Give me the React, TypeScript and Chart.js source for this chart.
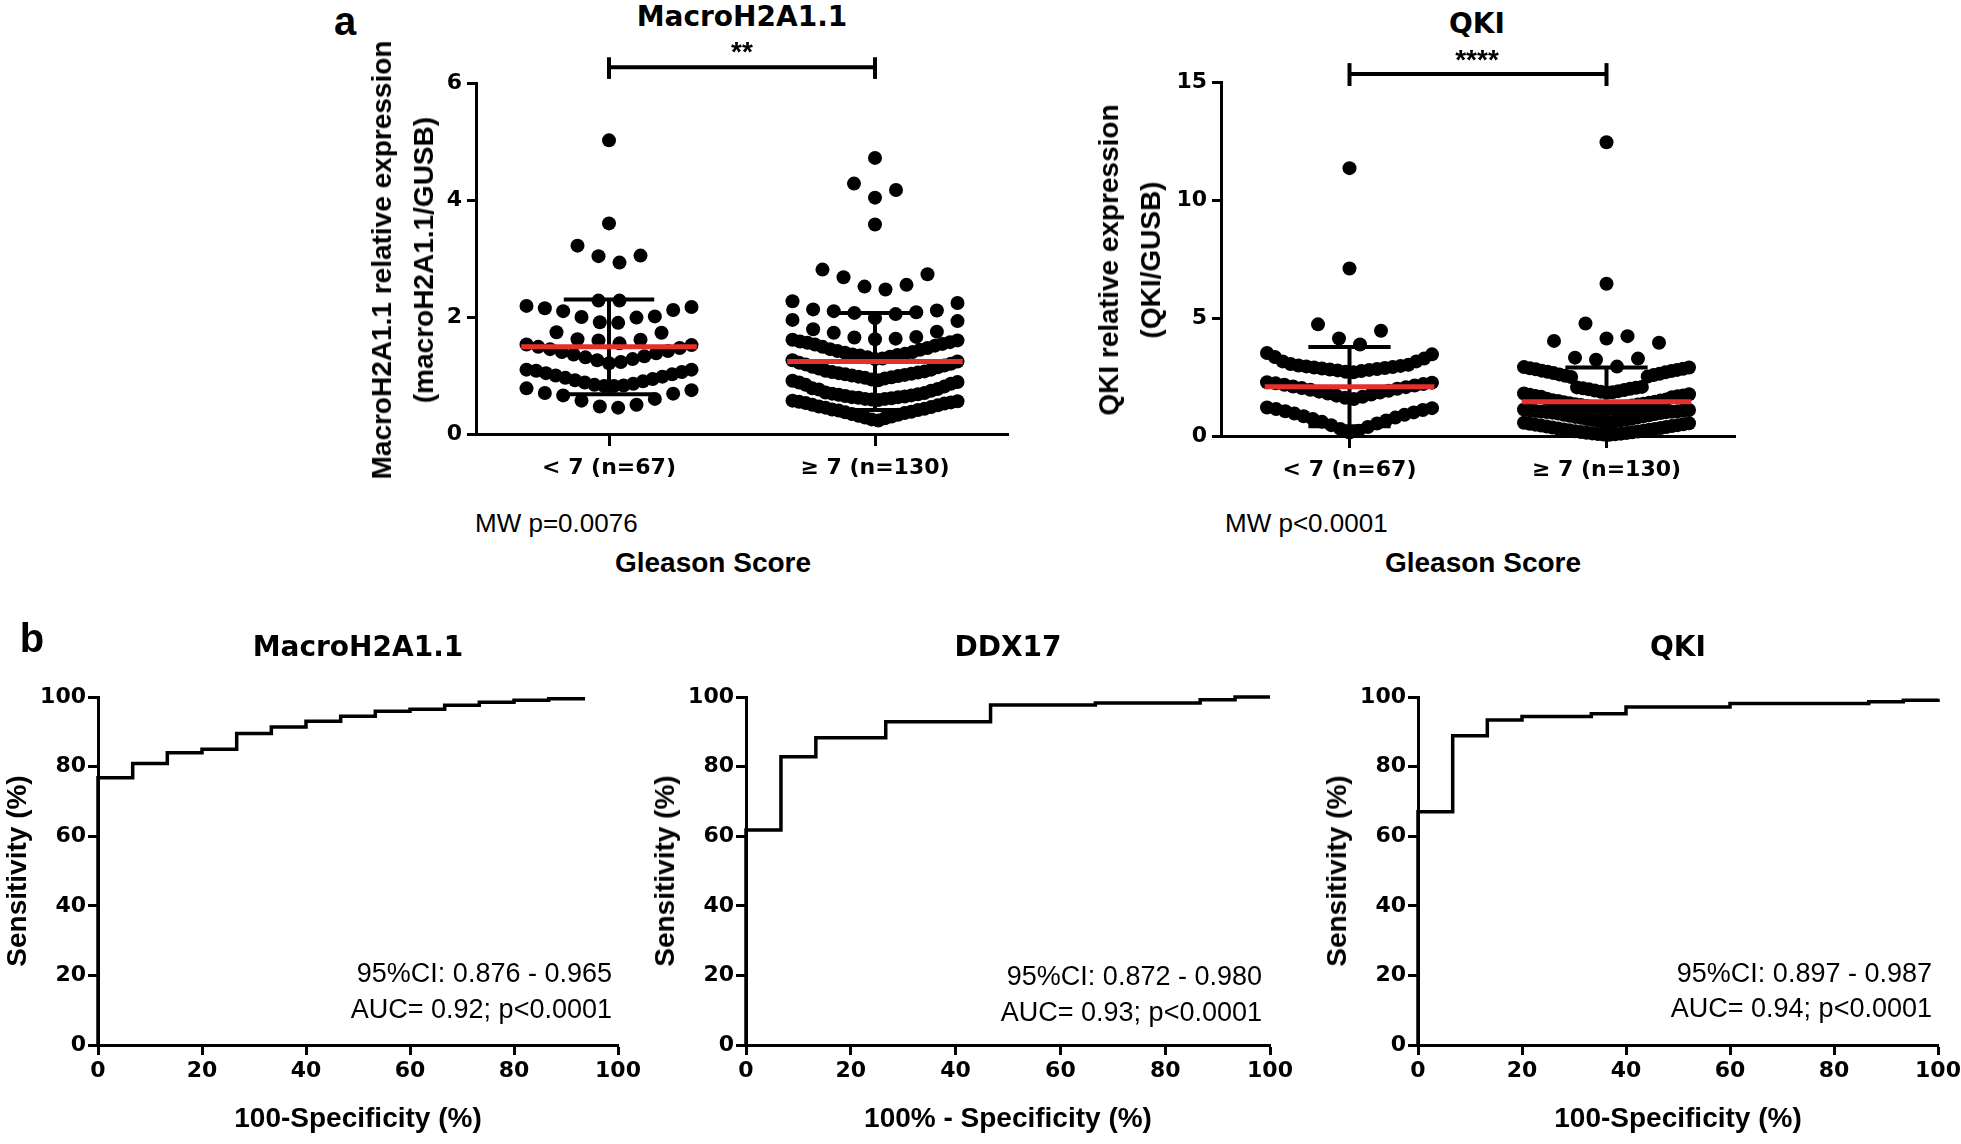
import React, { useEffect, useRef } from "react";
import { Chart, registerables } from "chart.js";

Chart.register(...registerables);

// ---------------- DATA ----------------
const gleasonGroups = ["< 7 (n=67)", "≥ 7 (n=130)"];

// MacroH2A1.1 relative expression (macroH2A1.1/GUSB)
const macroLow = [
  5.02, 3.6, 3.22, 3.05, 3.04, 2.93,
  2.28, 2.28,
  2.19, 2.17, 2.15, 2.12,
  2.1, 2.01, 2.0, 1.99,
  1.91, 1.9,
  1.74, 1.73,
  1.62, 1.61, 1.6,
  1.55, 1.53, 1.52, 1.49, 1.47, 1.45, 1.42, 1.4, 1.38, 1.36, 1.33, 1.31, 1.28, 1.26, 1.23, 1.21,
  1.1, 1.1, 1.08, 1.06, 1.04, 1.02, 1.0, 0.98, 0.96, 0.94, 0.92, 0.9, 0.88, 0.86, 0.84, 0.83,
  0.82, 0.82, 0.78, 0.75, 0.7, 0.69, 0.66, 0.6, 0.57, 0.5, 0.47, 0.45,
];
const macroHigh = [
  4.72, 4.28, 4.17, 4.04, 3.58,
  2.81, 2.73, 2.68, 2.55, 2.52, 2.47,
  2.27, 2.24,
  2.13, 2.11, 2.1, 2.08, 2.07, 2.05,
  1.98, 1.95, 1.93,
  1.79, 1.75, 1.73,
  1.66, 1.65, 1.63, 1.62, 1.61, 1.6, 1.58, 1.57, 1.56, 1.54, 1.53, 1.51, 1.49, 1.47,
  1.45, 1.44, 1.42, 1.4, 1.39, 1.37, 1.36, 1.35, 1.34, 1.32, 1.31, 1.29, 1.28, 1.26, 1.24, 1.22, 1.2, 1.17,
  1.19, 1.15, 1.14, 1.12, 1.1, 1.08, 1.07, 1.06, 1.05, 1.04, 1.03, 1.02, 1.01, 1.0, 0.99, 0.98, 0.97, 0.96,
  0.95, 0.93, 0.92, 0.91, 0.89, 0.88, 0.86, 0.84, 0.81, 0.78, 0.77, 0.76,
  0.74, 0.71, 0.7, 0.69, 0.68, 0.67, 0.66, 0.65, 0.64, 0.63, 0.63, 0.62, 0.61, 0.6, 0.6, 0.59, 0.58, 0.57,
  0.56, 0.55, 0.54, 0.53, 0.52,
  0.5, 0.49, 0.47, 0.46, 0.45, 0.43, 0.42, 0.41, 0.4, 0.38, 0.37, 0.36, 0.34, 0.33, 0.31, 0.3, 0.28, 0.27,
  0.25, 0.23,
];
const macroMean = [1.49, 1.24];
const macroSD = [0.81, 0.83];
const macroMax = 6;
const macroStep = 2;
const macroBracket = [6.27, 6.07, 6.44]; // level, tick bottom, tick top

// QKI relative expression (QKI/GUSB)
const qkiLow = [
  11.35, 7.1,
  4.73, 4.46, 4.13, 3.88,
  3.52, 3.46, 3.35, 3.28,
  3.16, 3.16,
  3.05, 3.02, 2.99, 2.97, 2.95, 2.92, 2.9, 2.88, 2.86, 2.84, 2.82, 2.8, 2.78, 2.75, 2.72, 2.7,
  2.28, 2.26, 2.23, 2.2, 2.17, 2.14, 2.1, 2.07, 2.03, 2.0, 1.96, 1.92, 1.88, 1.84, 1.8, 1.76, 1.71, 1.66, 1.62, 1.57,
  1.21, 1.18, 1.14, 1.1, 1.05, 1.0, 0.95, 0.9, 0.84, 0.78, 0.72, 0.66, 0.6, 0.53, 0.46, 0.38, 0.3, 0.22, 0.15,
];
const qkiHigh = [
  12.45, 6.45, 4.77, 4.23, 4.13, 4.03, 3.95, 3.32, 3.28, 3.23,
  2.94, 2.92, 2.9, 2.87, 2.85, 2.83, 2.8, 2.77, 2.75, 2.72, 2.7, 2.67, 2.64, 2.61, 2.58, 2.55, 2.52, 2.5,
  2.08, 2.06, 2.04, 2.02, 2.0, 1.98, 1.95, 1.93, 1.9, 1.88, 1.85, 1.83, 1.8, 1.77, 1.75, 1.72, 1.7, 1.68, 1.66, 1.64,
  1.58, 1.55, 1.52, 1.5, 1.48, 1.45, 1.43, 1.41, 1.39, 1.37, 1.35, 1.33, 1.31, 1.29, 1.27, 1.25,
  1.23, 1.21, 1.19, 1.17, 1.15, 1.14, 1.12, 1.1, 1.09, 1.08, 1.06, 1.05, 1.04, 1.03, 1.02, 1.01,
  0.99, 0.97, 0.95, 0.93, 0.9, 0.88, 0.86, 0.83, 0.81, 0.79, 0.77, 0.74, 0.72, 0.7, 0.68, 0.66, 0.64,
  0.62, 0.6, 0.58, 0.56, 0.54, 0.52, 0.5, 0.48, 0.46, 0.44, 0.42, 0.4, 0.38, 0.36, 0.34, 0.32, 0.3,
  0.28, 0.26, 0.24, 0.22, 0.2, 0.19, 0.17, 0.16, 0.14, 0.13, 0.11, 0.1, 0.08, 0.07, 0.06, 0.05,
];
const qkiMean = [2.09, 1.45];
const qkiSD = [1.68, 1.45];
const qkiMax = 15;
const qkiStep = 5;
const qkiBracket = [15.34, 14.83, 15.8];

// ROC curves: 100-Specificity (%) vs Sensitivity (%)
const rocMacroFpr = [0, 0, 6.67, 13.33, 20, 26.67, 33.33, 40, 46.67, 53.33, 60, 66.67, 73.33, 80, 86.67, 93.33];
const rocMacroSens = [0, 76.8, 80.9, 84.0, 85.0, 89.5, 91.4, 93.0, 94.5, 95.9, 96.5, 97.6, 98.5, 99.1, 99.5, 100];
const rocDdxFpr = [0, 0, 6.67, 13.33, 26.67, 46.67, 66.67, 86.67, 93.33, 100];
const rocDdxSens = [0, 61.8, 82.8, 88.3, 92.9, 97.7, 98.3, 99.2, 100, 100];
const rocQkiFpr = [0, 0, 6.67, 13.33, 20, 33.33, 40, 60, 86.67, 93.33, 100];
const rocQkiSens = [0, 67.0, 88.9, 93.4, 94.4, 95.2, 97.1, 98.1, 98.6, 99.1, 99.5];
const rocTickStep = 20;

// ---------------- STYLE / LAYOUT ----------------
const ARIAL = "'Liberation Sans', Arial, Helvetica, sans-serif";
const DEJAVU = "'DejaVu Sans', sans-serif";
const TICK_FONT = { family: DEJAVU, weight: "bold" as const, size: 22 };
const RED = "#e5302d";
const PAD = { l: 80, t: 40, r: 30, b: 60 };
const SPARSE_STEP = 21;
const SWARM_WIDTH = 165;

type Area = { left: number; top: number; right: number; bottom: number };
const AREA_SC_L: Area = { left: 476, top: 83, right: 1008, bottom: 434 };
const AREA_SC_R: Area = { left: 1221, top: 82, right: 1735, bottom: 436 };
const AREA_ROC1: Area = { left: 98, top: 697, right: 618, bottom: 1045 };
const AREA_ROC2: Area = { left: 746, top: 697, right: 1270, bottom: 1045 };
const AREA_ROC3: Area = { left: 1418, top: 697, right: 1938, bottom: 1045 };

// Dot-plot layout: sorted values are gathered in rows (limited height and count);
// in each row the lowest value sits in the middle and higher values move outward.
function swarm(values: number[], center: number, rowHeight: number, rowCap: number, unitsPerPx: number) {
  const sorted = [...values].sort((a, b) => a - b);
  const rows: number[][] = [];
  let cur: number[] = [];
  sorted.forEach((v) => {
    if (cur.length && (v - cur[0] >= rowHeight || cur.length >= rowCap)) {
      rows.push(cur);
      cur = [];
    }
    cur.push(v);
  });
  if (cur.length) rows.push(cur);
  const out: { x: number; y: number }[] = [];
  rows.forEach((row) => {
    const n = row.length;
    const step = n > 1 ? Math.min(SPARSE_STEP, SWARM_WIDTH / (n - 1)) : 0;
    const slots: number[] = [];
    for (let i = 0; i < n; i++) slots.push(i - (n - 1) / 2);
    slots.sort((p, q) => Math.abs(p) - Math.abs(q) || q - p);
    row.forEach((v, i) => out.push({ x: center + slots[i] * step * unitsPerPx, y: v }));
  });
  return out;
}

function yAxis(max: number, step: number, tickLength: number, padding: number) {
  return {
    type: "linear",
    position: "left",
    min: 0,
    max,
    border: { display: true, color: "#000", width: 3 },
    grid: { display: true, drawOnChartArea: false, drawTicks: true, tickLength, tickWidth: 3, color: "#000" },
    ticks: { stepSize: step, color: "#000", font: TICK_FONT, padding },
    afterFit: (s: any) => {
      s.width = PAD.l;
    },
  };
}

function xAxis(min: number, max: number, tickLength: number, padding: number, extra: any) {
  return {
    type: "linear",
    position: "bottom",
    min,
    max,
    border: { display: true, color: "#000", width: 3 },
    grid: { display: true, drawOnChartArea: false, drawTicks: true, tickLength, tickWidth: 3, color: "#000" },
    ticks: { color: "#000", font: TICK_FONT, padding, maxRotation: 0, autoSkip: false, ...(extra.ticks || {}) },
    afterFit: (s: any) => {
      s.height = PAD.b;
    },
    ...(extra.afterBuildTicks ? { afterBuildTicks: extra.afterBuildTicks } : {}),
  };
}

const baseOptions = {
  responsive: false,
  animation: false as const,
  events: [] as any[],
  layout: { padding: { top: PAD.t, right: PAD.r, left: 0, bottom: 0 }, autoPadding: false },
  plugins: { legend: { display: false }, tooltip: { enabled: false }, title: { display: false } },
};

function seg(data: { x: number; y: number }[], color: string, width: number) {
  return {
    data,
    showLine: true,
    borderColor: color,
    borderWidth: width,
    borderCapStyle: "butt",
    pointRadius: 0,
    pointHoverRadius: 0,
    clip: false,
  };
}

function scatterConfig(
  area: Area,
  low: number[],
  high: number[],
  mean: number[],
  sd: number[],
  max: number,
  step: number,
  rowHeight: number,
  rowCap: number,
  bracket: number[],
  capHalf: number
) {
  const unitsPerPx = 2 / (area.right - area.left);
  const points = [
    ...swarm(low, 1, rowHeight, rowCap, unitsPerPx),
    ...swarm(high, 2, rowHeight, rowCap, unitsPerPx),
  ];
  const ds: any[] = [];
  [0, 1].forEach((i) => {
    const c = i + 1;
    const m = mean[i];
    const s = sd[i];
    ds.push(seg([{ x: c - 0.33, y: m }, { x: c + 0.33, y: m }], RED, 5));
    ds.push(seg([{ x: c, y: m - s }, { x: c, y: m + s }], "#000", 4));
    ds.push(seg([{ x: c - capHalf, y: m + s }, { x: c + capHalf, y: m + s }], "#000", 4));
    ds.push(seg([{ x: c - capHalf, y: m - s }, { x: c + capHalf, y: m - s }], "#000", 4));
  });
  const [lvl, lo, hi] = bracket;
  ds.push(seg([{ x: 1, y: lvl }, { x: 2, y: lvl }], "#000", 4));
  ds.push(seg([{ x: 1, y: lo }, { x: 1, y: hi }], "#000", 4));
  ds.push(seg([{ x: 2, y: lo }, { x: 2, y: hi }], "#000", 4));
  ds.push({
    data: points,
    showLine: false,
    pointRadius: 7,
    pointHoverRadius: 7,
    pointBackgroundColor: "#000",
    pointBorderColor: "#000",
    pointBorderWidth: 0,
    clip: false,
  });
  return {
    type: "scatter",
    data: { datasets: ds },
    options: {
      ...baseOptions,
      scales: {
        x: xAxis(0.5, 2.5, 12, 9, {
          afterBuildTicks: (s: any) => {
            s.ticks = [{ value: 1 }, { value: 2 }];
          },
          ticks: { callback: (v: any) => gleasonGroups[Math.round(Number(v)) - 1] },
        }),
        y: yAxis(max, step, 9, 5),
      },
    },
  };
}

function rocConfig(fpr: number[], sens: number[]) {
  return {
    type: "scatter",
    data: {
      datasets: [
        {
          data: fpr.map((x, i) => ({ x, y: sens[i] })),
          showLine: true,
          stepped: "before",
          borderColor: "#000",
          borderWidth: 3.5,
          pointRadius: 0,
          pointHoverRadius: 0,
          clip: false,
        },
      ],
    },
    options: {
      ...baseOptions,
      scales: {
        x: xAxis(0, 100, 10, 3, { ticks: { stepSize: rocTickStep } }),
        y: yAxis(100, rocTickStep, 10, 2),
      },
    },
  };
}

function ChartBox({ area, config }: { area: Area; config: () => any }) {
  const ref = useRef<HTMLCanvasElement>(null);
  const left = area.left - PAD.l;
  const top = area.top - PAD.t;
  const width = area.right + PAD.r - left;
  const height = area.bottom + PAD.b - top;
  useEffect(() => {
    const chart = new Chart(ref.current as HTMLCanvasElement, config() as any);
    return () => chart.destroy();
  }, []);
  return (
    <canvas
      ref={ref}
      width={width}
      height={height}
      style={{ position: "absolute", left, top, width, height }}
    />
  );
}

type Lbl = { x: number; y: number; t: string; f?: string; w?: number; s: number; a?: "left" | "center" | "right" };

function Txt({ l }: { l: Lbl }) {
  const a = l.a || "center";
  const tx = a === "center" ? "-50%" : a === "right" ? "-100%" : "0";
  return (
    <div
      style={{
        position: "absolute",
        left: l.x,
        top: l.y - 0.846 * l.s,
        fontFamily: l.f || ARIAL,
        fontWeight: l.w || 400,
        fontSize: l.s,
        lineHeight: `${l.s}px`,
        whiteSpace: "nowrap",
        transform: `translateX(${tx})`,
        color: "#000",
      }}
    >
      {l.t}
    </div>
  );
}

function VTxt({ cx, cy, lines }: { cx: number; cy: number; lines: string[] }) {
  return (
    <div
      style={{
        position: "absolute",
        left: cx,
        top: cy,
        transform: "translate(-50%, -50%) rotate(-90deg)",
        fontFamily: ARIAL,
        fontWeight: 700,
        fontSize: 28,
        lineHeight: "42px",
        whiteSpace: "nowrap",
        textAlign: "center",
        color: "#000",
      }}
    >
      {lines.map((ln) => (
        <div key={ln}>{ln}</div>
      ))}
    </div>
  );
}

const labels: Lbl[] = [
  { x: 345, y: 35, t: "a", w: 700, s: 40 },
  { x: 742, y: 27, t: "MacroH2A1.1", f: DEJAVU, w: 700, s: 28 },
  { x: 742, y: 62, t: "**", w: 700, s: 28 },
  { x: 475, y: 532, t: "MW p=0.0076", s: 26, a: "left" },
  { x: 713, y: 573, t: "Gleason Score", w: 700, s: 28 },
  { x: 1477, y: 34, t: "QKI", f: DEJAVU, w: 700, s: 28 },
  { x: 1477, y: 70, t: "****", w: 700, s: 28 },
  { x: 1225, y: 532, t: "MW p<0.0001", s: 26, a: "left" },
  { x: 1483, y: 573, t: "Gleason Score", w: 700, s: 28 },
  { x: 32, y: 652, t: "b", w: 700, s: 40 },
  { x: 358, y: 657, t: "MacroH2A1.1", f: DEJAVU, w: 700, s: 28 },
  { x: 1008, y: 657, t: "DDX17", f: DEJAVU, w: 700, s: 28 },
  { x: 1678, y: 657, t: "QKI", f: DEJAVU, w: 700, s: 28 },
  { x: 358, y: 1128, t: "100-Specificity (%)", w: 700, s: 28 },
  { x: 1008, y: 1128, t: "100% - Specificity (%)", w: 700, s: 28 },
  { x: 1678, y: 1128, t: "100-Specificity (%)", w: 700, s: 28 },
  { x: 612, y: 983, t: "95%CI: 0.876 - 0.965", s: 27, a: "right" },
  { x: 612, y: 1019, t: "AUC= 0.92; p<0.0001", s: 27, a: "right" },
  { x: 1262, y: 986, t: "95%CI: 0.872 - 0.980", s: 27, a: "right" },
  { x: 1262, y: 1022, t: "AUC= 0.93; p<0.0001", s: 27, a: "right" },
  { x: 1932, y: 983, t: "95%CI: 0.897 - 0.987", s: 27, a: "right" },
  { x: 1932, y: 1018, t: "AUC= 0.94; p<0.0001", s: 27, a: "right" },
];

export default function App() {
  return (
    <div
      style={{
        position: "absolute",
        left: 0,
        top: 0,
        width: 1961,
        height: 1144,
        overflow: "hidden",
        background: "#fff",
      }}
    >
      <ChartBox
        area={AREA_SC_L}
        config={() =>
          scatterConfig(AREA_SC_L, macroLow, macroHigh, macroMean, macroSD, macroMax, macroStep, 0.34, 30, macroBracket, 0.17)
        }
      />
      <ChartBox
        area={AREA_SC_R}
        config={() =>
          scatterConfig(AREA_SC_R, qkiLow, qkiHigh, qkiMean, qkiSD, qkiMax, qkiStep, 1.1, 30, qkiBracket, 0.16)
        }
      />
      <ChartBox area={AREA_ROC1} config={() => rocConfig(rocMacroFpr, rocMacroSens)} />
      <ChartBox area={AREA_ROC2} config={() => rocConfig(rocDdxFpr, rocDdxSens)} />
      <ChartBox area={AREA_ROC3} config={() => rocConfig(rocQkiFpr, rocQkiSens)} />

      <VTxt cx={403} cy={260} lines={["MacroH2A1.1 relative expression", "(macroH2A1.1/GUSB)"]} />
      <VTxt cx={1130} cy={260} lines={["QKI relative expression", "(QKI/GUSB)"]} />
      <VTxt cx={AREA_ROC1.left - 81} cy={871} lines={["Sensitivity (%)"]} />
      <VTxt cx={AREA_ROC2.left - 81} cy={871} lines={["Sensitivity (%)"]} />
      <VTxt cx={AREA_ROC3.left - 81} cy={871} lines={["Sensitivity (%)"]} />

      {labels.map((l, i) => (
        <Txt key={i} l={l} />
      ))}
    </div>
  );
}
